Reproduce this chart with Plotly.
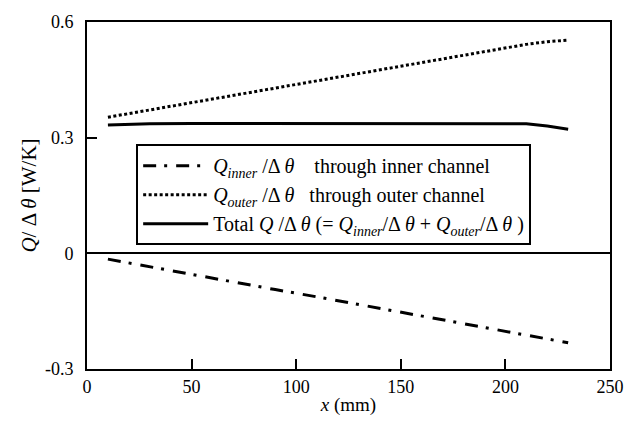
import plotly.graph_objects as go

x_mm = [10, 30, 50, 70, 90, 110, 130, 150, 170, 190, 210, 220, 230]
q_inner = [-0.015, -0.035, -0.054, -0.074, -0.094, -0.113, -0.133, -0.153, -0.172, -0.192, -0.212, -0.222, -0.232]
q_outer = [0.353, 0.372, 0.391, 0.410, 0.429, 0.448, 0.467, 0.486, 0.505, 0.524, 0.542, 0.549, 0.553]
q_total = [0.333, 0.336, 0.337, 0.337, 0.337, 0.337, 0.337, 0.337, 0.337, 0.336, 0.336, 0.330, 0.322]
x_ticks = [0, 50, 100, 150, 200, 250]
y_ticks = [-0.3, 0, 0.3, 0.6]
y_tick_text = ["-0.3", "0", "0.3", "0.6"]

FONT = "Liberation Serif"

fig = go.Figure()
fig.add_trace(go.Scatter(
    x=x_mm, y=q_inner, mode="lines",
    name="<i>Q<sub>inner</sub></i> /Δ <i>θ</i>    through inner channel",
    line=dict(color="black", width=3, dash="13px,8px,3px,9px")))
fig.add_trace(go.Scatter(
    x=x_mm, y=q_outer, mode="lines",
    name="<i>Q<sub>outer</sub></i> /Δ <i>θ</i>   through outer channel",
    line=dict(color="black", width=3, dash="3px,2.5px")))
fig.add_trace(go.Scatter(
    x=x_mm, y=q_total, mode="lines",
    name="Total <i>Q</i> /Δ <i>θ</i> (= <i>Q<sub>inner</sub></i>/Δ <i>θ</i> + <i>Q<sub>outer</sub></i>/Δ <i>θ</i> )",
    line=dict(color="black", width=3)))

fig.update_layout(
    width=639, height=425,
    margin=dict(l=87, r=29, t=19, b=56),
    paper_bgcolor="white", plot_bgcolor="white",
    font=dict(family=FONT, size=18, color="black"),
    showlegend=True,
    legend=dict(
        x=0.094, y=0.648, xanchor="left", yanchor="top",
        bgcolor="white", bordercolor="black", borderwidth=2,
        font=dict(family=FONT, size=20, color="black"),
        tracegroupgap=0, itemwidth=65,
    ),
    xaxis=dict(
        range=[0, 250], tickvals=x_ticks,
        showline=True, linecolor="black", linewidth=2, mirror=True,
        ticks="inside", ticklen=10, tickwidth=2, tickcolor="black",
        showgrid=False, zeroline=False,
        tickfont=dict(family=FONT, size=18),
        title=dict(text="<i>x</i> (mm)", font=dict(family=FONT, size=19), standoff=2),
    ),
    yaxis=dict(
        range=[-0.3, 0.6], tickvals=y_ticks, ticktext=y_tick_text,
        showline=True, linecolor="black", linewidth=2, mirror=True,
        ticks="inside", ticklen=10, tickwidth=2, tickcolor="black",
        showgrid=False, zeroline=True, zerolinecolor="black", zerolinewidth=1.5,
        tickfont=dict(family=FONT, size=18), ticklabelstandoff=8,
        title=dict(text="<i>Q</i>/ Δ <i>θ</i> [W/K]", font=dict(family=FONT, size=21), standoff=3),
    ),
)

fig.write_html("out.html")
